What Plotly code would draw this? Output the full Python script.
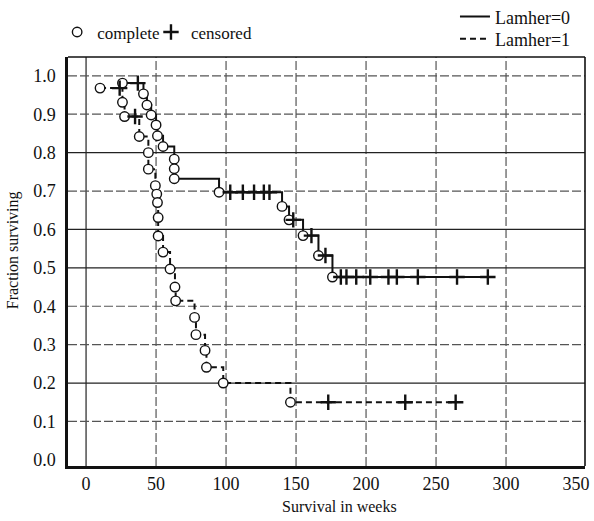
import plotly.graph_objects as go

# ---------------- data ----------------
# Lamher = 0 (solid curve)
l0_event_time = [26, 41, 43.5, 46.5, 50, 51, 55, 63, 63, 63, 95, 140, 145, 155, 166, 176]
l0_event_surv = [0.981, 0.953, 0.924, 0.898, 0.872, 0.844, 0.816, 0.783, 0.758, 0.732,
                 0.697, 0.660, 0.625, 0.584, 0.532, 0.476]
l0_cens_time = [37, 103, 112, 120, 127, 131, 148, 161, 171,
                182, 186, 193, 203, 216, 222, 237, 265, 287]
l0_cens_surv = [0.981, 0.697, 0.697, 0.697, 0.697, 0.697, 0.625, 0.584, 0.532,
                0.476, 0.476, 0.476, 0.476, 0.476, 0.476, 0.476, 0.476, 0.476]

# Lamher = 1 (dashed curve)
l1_event_time = [10, 26, 27.5, 38, 44.5, 44.5, 49.5, 50.5, 51, 51.5, 51.5, 55, 60,
                 63.5, 64, 77.5, 78.5, 85, 86, 98, 146]
l1_event_surv = [0.968, 0.931, 0.894, 0.842, 0.800, 0.757, 0.714, 0.692, 0.670, 0.631,
                 0.583, 0.541, 0.497, 0.450, 0.414, 0.371, 0.326, 0.285, 0.241, 0.200, 0.150]
l1_cens_time = [24, 35, 173, 228, 264]
l1_cens_surv = [0.968, 0.894, 0.150, 0.150, 0.150]

x_ticks = [0, 50, 100, 150, 200, 250, 300, 350]
y_ticks = [0.0, 0.1, 0.2, 0.3, 0.4, 0.5, 0.6, 0.7, 0.8, 0.9, 1.0]
y_ticktext = ["0.0", "0.1", "0.2", "0.3", "0.4", "0.5", "0.6", "0.7", "0.8", "0.9", "1.0"]

# grid line styles (style only)
x_grid_dash = ["solid", "dash", "dash", "dash", "dash", "dash", "dash"]
y_grid_dash = [None, "dash", "solid", "dash", "dash", "solid", "solid", "dash", "solid", "dash", "dash"]

FONT = "Liberation Serif"


def km_path(et, es, ct, cs):
    pts = sorted(list(zip(et, es)) + list(zip(ct, cs)), key=lambda p: (p[0], -p[1]))
    return [p[0] for p in pts], [p[1] for p in pts]


fig = go.Figure()

x0, y0 = km_path(l0_event_time, l0_event_surv, l0_cens_time, l0_cens_surv)
x1, y1 = km_path(l1_event_time, l1_event_surv, l1_cens_time, l1_cens_surv)

fig.add_trace(go.Scatter(x=x0, y=y0, mode="lines", line=dict(shape="hv", color="#111", width=2),
                         name="Lamher=0", legend="legend2"))
fig.add_trace(go.Scatter(x=x1, y=y1, mode="lines",
                         line=dict(shape="hv", color="#111", width=2, dash="6px,4px"),
                         name="Lamher=1", legend="legend4"))

fig.add_trace(go.Scatter(x=l0_event_time + l1_event_time, y=l0_event_surv + l1_event_surv,
                         mode="markers", name="complete", legend="legend",
                         marker=dict(symbol="circle", size=9.5, color="white",
                                     line=dict(color="#111", width=1.4))))
fig.add_trace(go.Scatter(x=l0_cens_time + l1_cens_time, y=l0_cens_surv + l1_cens_surv,
                         mode="markers", name="censored", legend="legend3",
                         marker=dict(symbol="cross-thin", size=11, color="#111",
                                     line=dict(color="#111", width=2.4))))

shapes = []
for xv, d in zip(x_ticks[:-1], x_grid_dash):
    shapes.append(dict(type="line", xref="x", yref="paper", x0=xv, x1=xv, y0=0, y1=1,
                       layer="below",
                       line=dict(color="#222" if d == "solid" else "#555", width=1.2,
                                 dash="solid" if d == "solid" else "9px,3px")))
for yv, d in zip(y_ticks, y_grid_dash):
    if d is None:
        continue
    shapes.append(dict(type="line", xref="paper", yref="y", x0=0, x1=1, y0=yv, y1=yv,
                       layer="below",
                       line=dict(color="#222" if d == "solid" else "#555", width=1.2,
                                 dash="solid" if d == "solid" else "9px,3px")))
# top and right frame
shapes.append(dict(type="line", xref="paper", yref="paper", x0=0, x1=1, y0=1, y1=1,
                   line=dict(color="#111", width=1.6)))
shapes.append(dict(type="line", xref="paper", yref="paper", x0=1, x1=1, y0=0, y1=1,
                   line=dict(color="#111", width=1.6)))

leg_left = dict(font=dict(family=FONT, size=17, color="#111"), bgcolor="rgba(0,0,0,0)",
                xanchor="left", yanchor="middle", tracegroupgap=0, itemwidth=30)
leg_right = dict(font=dict(family=FONT, size=18, color="#111"), bgcolor="rgba(0,0,0,0)",
                 xanchor="left", yanchor="middle", tracegroupgap=0, itemwidth=30)

fig.update_layout(
    width=594, height=521,
    margin=dict(l=68, r=9, t=57, b=55, autoexpand=False),
    paper_bgcolor="white", plot_bgcolor="white",
    font=dict(family=FONT, color="#111", size=17),
    shapes=shapes,
    showlegend=True,
    legend=dict(x=-0.021, y=1.06, **leg_left),
    legend3=dict(x=0.1605, y=1.06, **leg_left),
    legend2=dict(x=0.7485, y=1.098, **leg_right),
    legend4=dict(x=0.7485, y=1.044, **leg_right),
    xaxis=dict(range=[-12.9, 356.4], tickvals=x_ticks, ticks="", showgrid=False,
               zeroline=False, showline=True, linecolor="#111", linewidth=2.5,
               tickfont=dict(family=FONT, size=18), ticklabelstandoff=0),
    yaxis=dict(range=[-0.016, 1.049], tickvals=y_ticks, ticktext=y_ticktext, ticks="",
               showgrid=False, zeroline=False, showline=True, linecolor="#111",
               linewidth=2.5, tickfont=dict(family=FONT, size=18), ticklabelstandoff=6),
    annotations=[
        dict(text="Survival in weeks", xref="paper", yref="paper", x=0.526, y=-0.1,
             showarrow=False, font=dict(family=FONT, size=16), xanchor="center",
             yanchor="middle"),
        dict(text="Fraction surviving", xref="paper", yref="paper", x=-0.106, y=0.528,
             showarrow=False, font=dict(family=FONT, size=16), textangle=-90,
             xanchor="center", yanchor="middle"),
    ],
)

fig.write_html("out.html")
